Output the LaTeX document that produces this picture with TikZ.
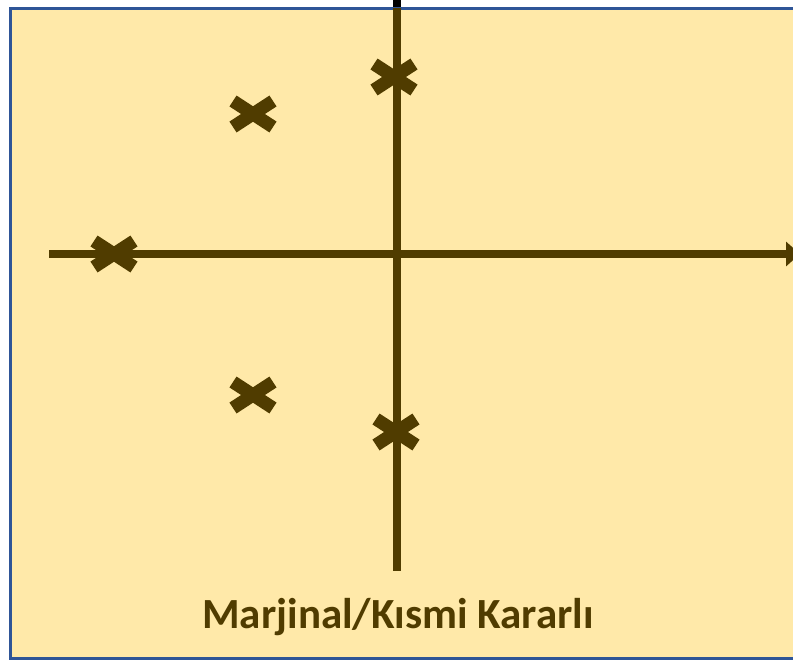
\documentclass[tikz,border=0pt]{standalone}
\usepackage{fontspec}
\setsansfont{Carlito}
\usetikzlibrary{arrows.meta}
\definecolor{paneyellow}{RGB}{255,233,169}
\definecolor{paneblue}{RGB}{47,85,151}
\definecolor{axisbrown}{RGB}{80,60,0}
\tikzset{
  axisline/.style = {draw = axisbrown, line width = 8pt},
  polemark/.style = {draw = axisbrown, line width = 13pt},
  pics/pole/.style = {code = {
    \draw[polemark] (-20pt,-13pt) -- (20pt,13pt);
    \draw[polemark] (-20pt,13pt) -- (20pt,-13pt);
  }}
}
\begin{document}
\begin{tikzpicture}[x = 1pt, y = -1pt]
\useasboundingbox (0,0) rectangle (793,662);
\clip (0,0) rectangle (793,662);
\draw[black, line width = 8pt] (397,0) -- (397,9);
\filldraw[fill = paneyellow, draw = paneblue, line width = 3pt] (10.5,8) rectangle (830,658.5);
% axes
\coordinate (top) at (397,8);
\coordinate (bottom) at (397,571);
\coordinate (left) at (49,254);
\coordinate (right) at (800,254);
\draw[axisline] (top) -- (bottom);
\draw[axisline, -{Triangle[width = 24pt, length = 14pt]}] (left) -- (right);
% poles
\coordinate (p1) at (114,254);
\coordinate (p2) at (253,114);
\coordinate (p3) at (253,395);
\coordinate (p4) at (394,77);
\coordinate (p5) at (396,432);
\foreach \p in {p1,p2,p3,p4,p5}
  \pic at (\p) {pole};
\node[anchor = base, text = axisbrown, font = \sffamily\bfseries\fontsize{43}{52}\selectfont] (caption) at (398,628) {Marjinal/Kısmi Kararlı};
\end{tikzpicture}
\end{document}
